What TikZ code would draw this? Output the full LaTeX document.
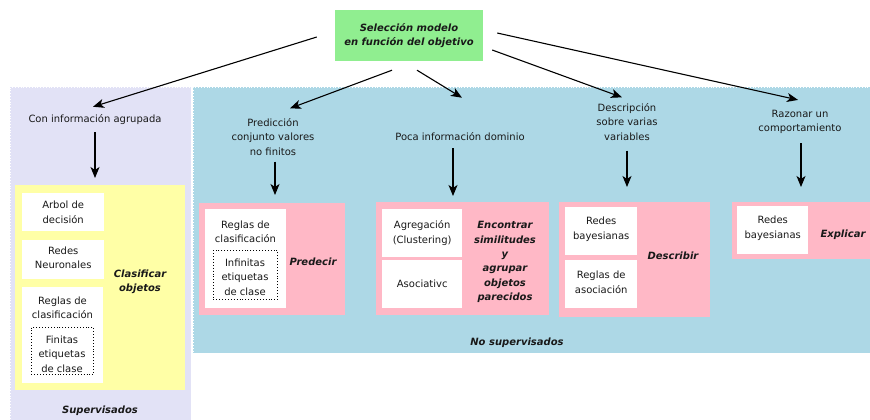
\documentclass[tikz,border=0pt]{standalone}
\usepackage{fontspec}
\setmainfont{DejaVu Sans}
\usetikzlibrary{arrows.meta,calc}
\definecolor{cgreen}{HTML}{90EE90}
\definecolor{clav}{HTML}{E2E2F6}
\definecolor{cblue}{HTML}{ADD8E6}
\definecolor{cpink}{HTML}{FFB8C6}
\definecolor{cyel}{HTML}{FFFFA6}
\begin{document}
\begin{tikzpicture}[x=1pt,y=-1pt,
  every node/.style={font=\fontsize{10}{14.4}\selectfont, align=center, inner sep=0pt, text=black!90},
  bt/.style={font=\fontsize{10}{14.4}\selectfont\bfseries\itshape},
  region/.style={anchor=north west, draw=white, dotted, line width=0.8pt},
  panel/.style={anchor=north west, fill=#1},
  wbox/.style={anchor=north west, fill=white},
  dbox/.style={anchor=north west, draw=black, dotted, line width=0.9pt},
  arr/.style={-{Stealth[length=11pt,width=9pt,inset=3pt]}, line width=1.1pt, black}]
\useasboundingbox[fill=white] (0,0) rectangle (870,420);
% regions
\node[region, fill=clav, minimum width=181, minimum height=335] (sup) at (10,87) {};
\node[region, fill=cblue, minimum width=679, minimum height=266] (nosup) at (193,87) {};
% title
\node[fill=cgreen, minimum width=148, minimum height=51, bt] (sel) at (409,35.5) {Selección modelo\\en función del objetivo};
% supervisados
\node (con) at (95,120) {Con información agrupada};
\node[panel=cyel, minimum width=170, minimum height=205] (yel) at (15,185) {};
\node[wbox, minimum width=82, minimum height=38] (arbol) at (22,193) {};
\node at (arbol.center) {Arbol de\\decisión};
\node[wbox, minimum width=82, minimum height=39] (redes) at (22,240) {};
\node at ($(redes.center)+(0,-2)$) {Redes\\Neuronales};
\node[wbox, minimum width=81, minimum height=96] (reglas1) at (22,287) {};
\node (reglas1t) at (62.5,307.5) {Reglas de\\clasificación};
\node[dbox, minimum width=62, minimum height=47] (fin) at (31,327) {};
\node at (62,354) {Finitas\\etiquetas\\de clase};
\node[bt] (clas) at (140,282) {Clasificar\\objetos};
\node[bt] (supl) at (100,411) {Supervisados};
% prediccion
\node (pred) at (273,137) {Predicción\\conjunto valores\\no finitos};
\node[panel=cpink, minimum width=146, minimum height=112] (predp) at (199,203) {};
\node[wbox, minimum width=81, minimum height=99] (reglas2) at (205,209) {};
\node (reglas2t) at (245.5,232) {Reglas de\\clasificación};
\node[dbox, minimum width=64, minimum height=49] (inf) at (213,250) {};
\node at (245,277) {Infinitas\\etiquetas\\de clase};
\node[bt] (predecir) at (313,262) {Predecir};
% poca informacion
\node (poca) at (460,137) {Poca información dominio};
\node[panel=cpink, minimum width=173, minimum height=113] (encp) at (376,202) {};
\node[wbox, minimum width=80, minimum height=48] (agr) at (382,209) {};
\node at (agr.center) {Agregación\\(Clustering)};
\node[wbox, minimum width=80, minimum height=48] (aso) at (382,260) {};
\node at (aso.center) {Asociativc};
\node[bt] (enc) at (505,262) {Encontrar\\similitudes\\y\\agrupar\\objetos\\parecidos};
% descripcion
\node (desc) at (627,122) {Descripción\\sobre varias\\variables};
\node[panel=cpink, minimum width=151, minimum height=115] (descp) at (559,202) {};
\node[wbox, minimum width=72, minimum height=48] (bay1) at (565,207) {};
\node at ($(bay1.center)+(0,-2)$) {Redes\\bayesianas};
\node[wbox, minimum width=72, minimum height=48] (rasoc) at (565,260) {};
\node at ($(rasoc.center)+(0,-2)$) {Reglas de\\asociación};
\node[bt] (describir) at (673,256) {Describir};
% razonar
\node (raz) at (800,122) {Razonar un\\comportamiento};
\node[panel=cpink, minimum width=140, minimum height=57] (expp) at (732,202) {};
\node[wbox, minimum width=71, minimum height=48] (bay2) at (737,206) {};
\node at ($(bay2.center)+(0,-2)$) {Redes\\bayesianas};
\node[bt] (explicar) at (843,235) {Explicar};
\node[bt] (nosupl) at (517,343) {No supervisados};
% arrows from title
\draw[arr] ($(sel.west)+(-18,1.5)$) -- ($(con.north)+(-2,-8)$);
\draw[arr] ($(sel.south)+(-17,9)$) -- ($(pred.north)+(17,-10)$);
\draw[arr] ($(sel.south)+(8,9)$) -- ($(poca.north)+(2,-35)$);
\draw[arr] ($(sel.east)+(9,14.5)$) -- ($(desc.north)+(-5,-6)$);
\draw[arr] ($(sel.east)+(14,-2.5)$) -- ($(raz.north)+(-2,-10)$);
% vertical arrows
\draw[arr] ($(con.south)+(0,7)$) -- ($(con.south |- yel.north)+(0,-7)$);
\draw[arr] ($(pred.south)+(2,6)$) -- ($(pred.south |- predp.north)+(2,-8)$);
\draw[arr] ($(poca.south)+(-7,7)$) -- ($(poca.south |- encp.north)+(-7,-6)$);
\draw[arr] ($(desc.south)+(0,10)$) -- ($(desc.south |- descp.north)+(0,-15)$);
\draw[arr] ($(raz.south)+(1,9)$) -- ($(raz.south |- expp.north)+(1,-15)$);
\end{tikzpicture}
\end{document}
